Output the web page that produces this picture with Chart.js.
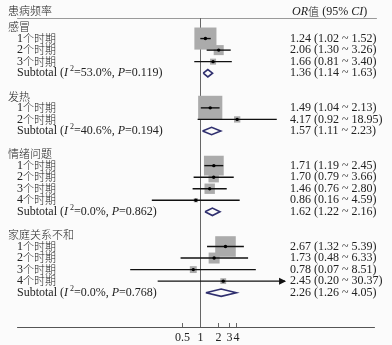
<!DOCTYPE html>
<html>
<head>
<meta charset="utf-8">
<script src="https://cdn.jsdelivr.net/npm/chart.js@4.4.0/dist/chart.umd.min.js"></script>
<style>
html,body{margin:0;padding:0;background:#fbfbfb;}
#wrap{width:392px;height:345px;}
</style>
</head>
<body>
<div id="wrap"><canvas id="forest" width="392" height="345"></canvas></div>
<script>
// data
const groups = ['感冒', '发热', '情绪问题', '家庭关系不和'];
const periods = ['1个时期', '2个时期', '3个时期', '4个时期'];

const orCold = [1.24, 2.06, 1.66];
const loCold = [1.02, 1.30, 0.81];
const hiCold = [1.52, 3.26, 3.40];
const wCold = [78.1, 16.1, 5.8];

const orFever = [1.49, 4.17];
const loFever = [1.04, 0.92];
const hiFever = [2.13, 18.95];
const wFever = [93.6, 6.4];

const orMood = [1.71, 1.70, 1.46, 0.86];
const loMood = [1.19, 0.79, 0.76, 0.16];
const hiMood = [2.45, 3.66, 2.80, 4.59];
const wMood = [62.6, 17.3, 17.3, 2.8];

const orFam = [2.67, 1.73, 0.78, 2.45];
const loFam = [1.32, 0.48, 0.07, 0.20];
const hiFam = [5.39, 6.33, 8.51, 30.37];
const wFam = [67.7, 19.3, 7.6, 5.4];

const subOR = [1.36, 1.57, 1.62, 2.26];
const subLo = [1.14, 1.11, 1.22, 1.26];
const subHi = [1.63, 2.23, 2.16, 4.05];
const subI2 = ['53.0', '40.6', '0.0', '0.0'];
const subP = ['0.119', '0.194', '0.862', '0.768'];

const xTicks = [0.5, 1, 2, 3, 4];

const allOR = [orCold, orFever, orMood, orFam];
const allLo = [loCold, loFever, loMood, loFam];
const allHi = [hiCold, hiFever, hiMood, hiFam];
const allW = [wCold, wFever, wMood, wFam];

const clipMax = 26;
const serif = "'Liberation Serif', serif";
const cjk = "'Noto Sans CJK SC', sans-serif";
const txtClr = '#222';

// row layout
let rows = [];
let r = 0;
groups.forEach((g, gi) => {
  rows.push({kind: 'head', gi: gi, y: r++});
  allOR[gi].forEach((v, k) => rows.push({kind: 'study', gi: gi, k: k, y: r++}));
  rows.push({kind: 'sub', gi: gi, y: r++});
  r++;
});

const f2 = (v) => v.toFixed(2);

let boxPts = [], dotPts = [], boxR = [];
let datasets = [];
rows.forEach((row) => {
  if (row.kind == 'study') {
    let v = allOR[row.gi][row.k];
    let lo = allLo[row.gi][row.k];
    let hi = allHi[row.gi][row.k];
    boxPts.push({x: v, y: row.y});
    boxR.push(2.5 * Math.sqrt(allW[row.gi][row.k]) / (2 * Math.SQRT1_2));
    dotPts.push({x: v, y: row.y});
    datasets.push({
      data: [{x: lo, y: row.y}, {x: Math.min(hi, clipMax), y: row.y}],
      showLine: true, borderColor: '#111', borderWidth: 1.4, pointRadius: 0, order: 2
    });
  }
  if (row.kind == 'sub') {
    let gi = row.gi;
    datasets.push({
      data: [
        {x: subLo[gi], y: row.y}, {x: subOR[gi], y: row.y - 0.32},
        {x: subHi[gi], y: row.y}, {x: subOR[gi], y: row.y + 0.32},
        {x: subLo[gi], y: row.y}
      ],
      showLine: true, borderColor: '#2f2f6e', borderWidth: 1.6, borderJoinStyle: 'miter',
      backgroundColor: '#fff', fill: false, pointRadius: 0, tension: 0, order: 1
    });
  }
});
datasets.push({data: boxPts, pointStyle: 'rect', pointRadius: boxR, backgroundColor: '#ababab', borderWidth: 0, order: 3});
datasets.push({data: dotPts, pointStyle: 'circle', pointRadius: 1.7, backgroundColor: '#000', borderWidth: 0, order: 0});

// split text into CJK / latin runs so each gets its own font
function drawRich(ctx, segs, x, y) {
  segs.forEach((s) => {
    let runs = s.t.match(/[\u3400-\u9fff]+|[^\u3400-\u9fff]+/g) || [];
    runs.forEach((t) => {
      let isCjk = /[\u3400-\u9fff]/.test(t);
      if (isCjk) {
        ctx.font = '300 11px ' + cjk;
      } else {
        let size = s.sup ? 8 : 12;
        ctx.font = (s.it ? 'italic ' : '') + size + 'px ' + serif;
      }
      ctx.fillText(t, x, s.sup ? y - 4 : y);
      x += ctx.measureText(t).width + (isCjk ? 0.3 * t.length : 0);
    });
  });
}

const forestDeco = {
  id: 'forestDeco',
  beforeDatasetsDraw(chart) {
    const ctx = chart.ctx, xs = chart.scales.x, a = chart.chartArea;
    ctx.save();
    ctx.strokeStyle = '#9a9a9a';
    ctx.lineWidth = 1;
    ctx.beginPath(); ctx.moveTo(a.left, a.top + 0.5); ctx.lineTo(a.right + 2, a.top + 0.5); ctx.stroke();
    ctx.strokeStyle = '#555';
    ctx.beginPath(); ctx.moveTo(a.left, a.bottom + 0.5); ctx.lineTo(a.right, a.bottom + 0.5); ctx.stroke();
    let x1 = Math.round(xs.getPixelForValue(1)) + 0.5;
    ctx.strokeStyle = '#666';
    ctx.beginPath(); ctx.moveTo(x1, a.top); ctx.lineTo(x1, a.bottom); ctx.stroke();
    ctx.fillStyle = txtClr;
    ctx.textBaseline = 'middle';
    ctx.textAlign = 'center';
    ctx.font = '12px ' + serif;
    xTicks.forEach((t) => {
      let px = Math.round(xs.getPixelForValue(t)) + 0.5;
      ctx.beginPath(); ctx.moveTo(px, a.bottom - 4); ctx.lineTo(px, a.bottom); ctx.stroke();
      ctx.fillText(String(t), px, a.bottom + 11);
    });
    ctx.restore();
  },
  afterDatasetsDraw(chart) {
    const ctx = chart.ctx, xs = chart.scales.x, ys = chart.scales.y;
    ctx.save();
    ctx.fillStyle = txtClr;
    ctx.textBaseline = 'middle';
    ctx.textAlign = 'left';
    drawRich(ctx, [{t: '患病频率'}], 8, 11);
    drawRich(ctx, [{t: 'OR', it: true}, {t: '值'}, {t: ' (95% '}, {t: 'CI', it: true}, {t: ')'}], 292, 12);
    rows.forEach((row) => {
      let py = ys.getPixelForValue(row.y);
      if (row.kind == 'head') {
        drawRich(ctx, [{t: groups[row.gi]}], 8, py);
      } else if (row.kind == 'study') {
        let v = allOR[row.gi][row.k], lo = allLo[row.gi][row.k], hi = allHi[row.gi][row.k];
        drawRich(ctx, [{t: periods[row.k]}], 17, py);
        drawRich(ctx, [{t: f2(v) + ' (' + f2(lo) + ' ~ ' + f2(hi) + ')'}], 290, py);
        if (hi > clipMax) {
          let px = xs.getPixelForValue(clipMax);
          ctx.beginPath();
          ctx.moveTo(px + 1, py); ctx.lineTo(px - 6, py - 3.5); ctx.lineTo(px - 6, py + 3.5);
          ctx.closePath(); ctx.fillStyle = '#111'; ctx.fill();
          ctx.fillStyle = txtClr;
        }
      } else {
        let gi = row.gi;
        drawRich(ctx, [{t: 'Subtotal ('}, {t: 'I', it: true}, {t: ' 2', sup: true},
          {t: '=' + subI2[gi] + '%, '}, {t: 'P', it: true}, {t: '=' + subP[gi] + ')'}], 17, py);
        drawRich(ctx, [{t: f2(subOR[gi]) + ' (' + f2(subLo[gi]) + ' ~ ' + f2(subHi[gi]) + ')'}], 290, py);
      }
    });
    ctx.restore();
  }
};

new Chart(document.getElementById('forest').getContext('2d'), {
  type: 'scatter',
  data: {datasets: datasets},
  options: {
    responsive: false,
    animation: false,
    layout: {padding: {left: 3, right: 12, top: 18, bottom: 18}},
    plugins: {legend: {display: false}, tooltip: {enabled: false}},
    scales: {
      x: {type: 'logarithmic', min: 0.00093, max: 805, display: false},
      y: {type: 'linear', min: -0.78, max: 25.97, reverse: true, display: false}
    }
  },
  plugins: [forestDeco]
});
</script>
</body>
</html>
